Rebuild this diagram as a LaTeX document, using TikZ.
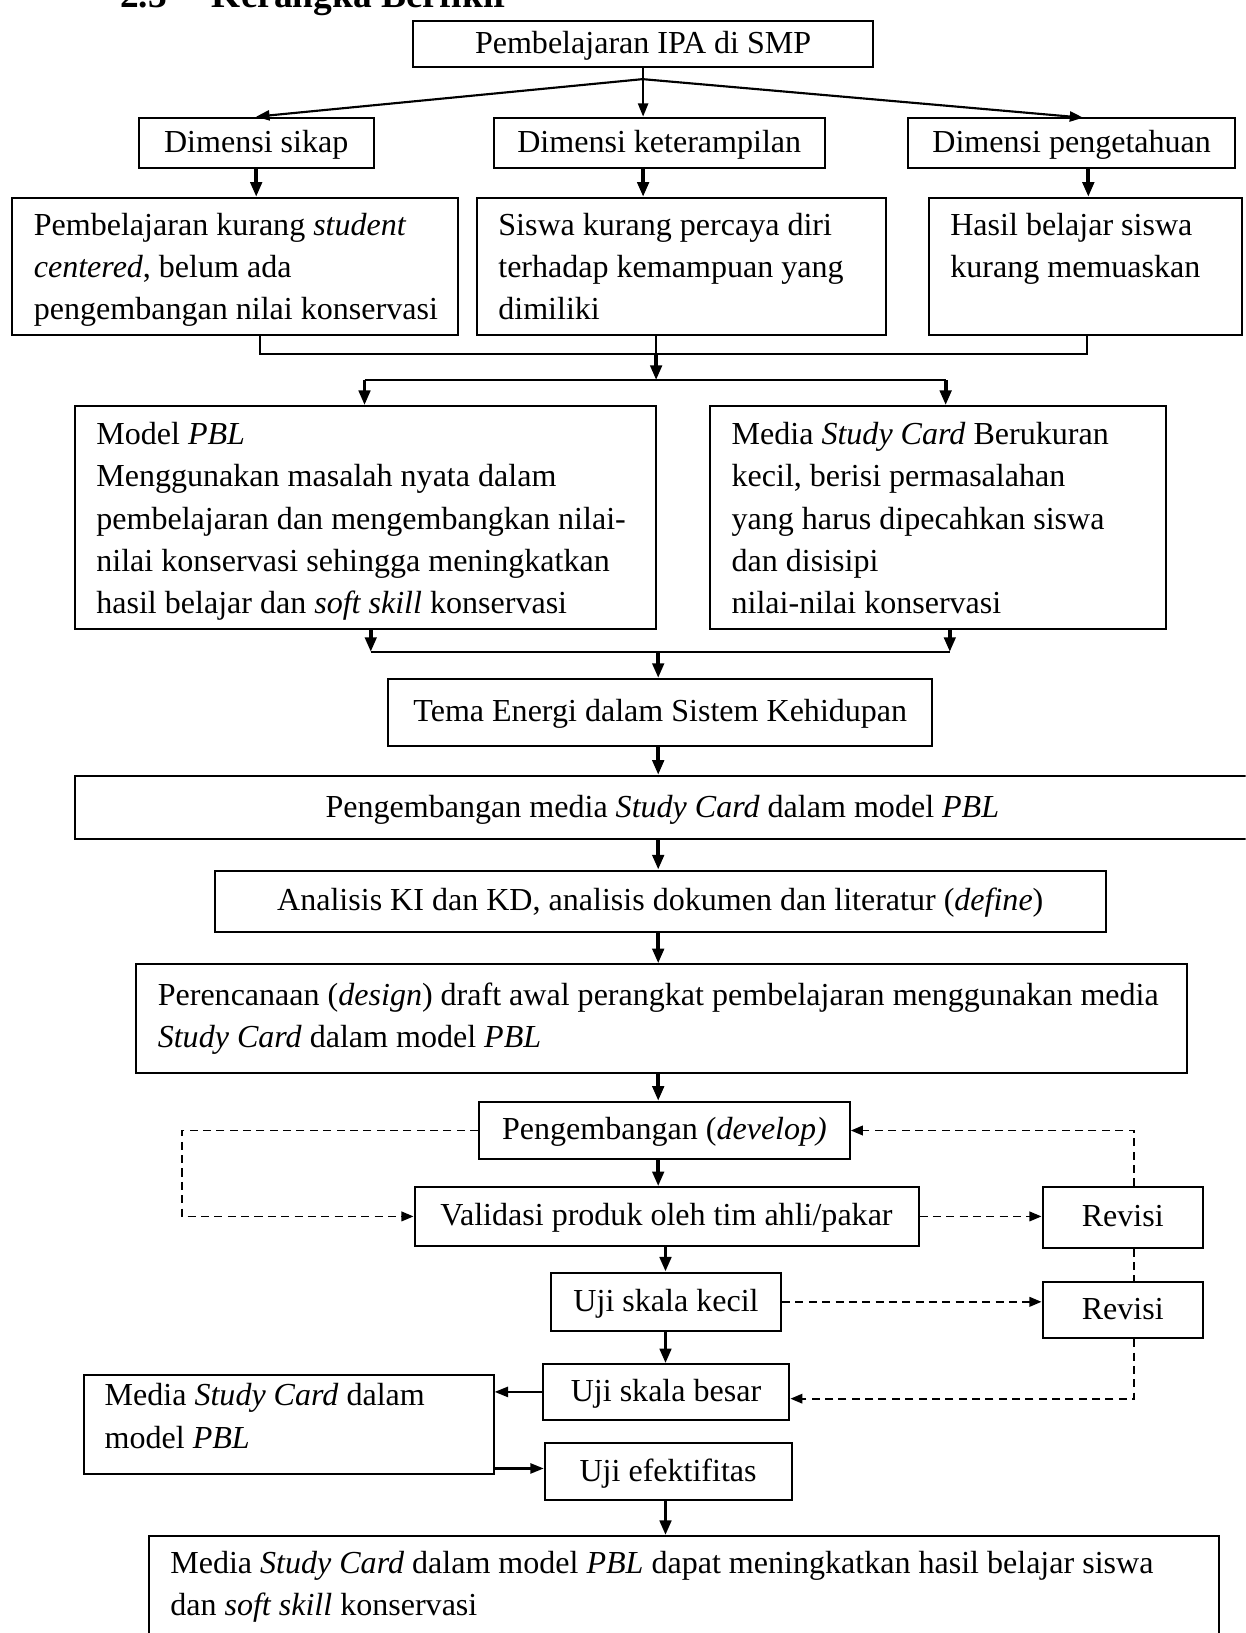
\documentclass[tikz,border=0pt]{standalone}
\usepackage{fontspec}
\setmainfont{Liberation Serif}
\usetikzlibrary{arrows.meta,calc}
\newdimen\pxu
\pxu=0.39pt
\begin{document}
\begin{tikzpicture}[x=0.39pt,y=-0.39pt,
  font=\fontsize{12}{15.8}\selectfont,
  box/.style={draw, line width=0.75pt, inner sep=0pt, rectangle, text height=9.2pt, text depth=2.1pt},
  txt/.style={inner sep=0pt, anchor=base west, text width=30cm, align=flush left,
    execute at begin node={\spaceskip=0pt\xspaceskip=0pt\relax}},
  conn/.style={line width=0.8pt},
  arr/.style={line width=0.8pt, -{Triangle[length=5pt,width=3.8pt]}},
  tarr/.style={line width=1.4pt, -{Triangle[length=5.5pt,width=4.2pt]}},
  dsh/.style={line width=0.65pt, dash pattern=on 3pt off 2pt},
  darr/.style={dsh, -{Triangle[length=4.5pt,width=3.6pt]}}]
\useasboundingbox (0,0) rectangle (1196,1568);
\clip (0,0) rectangle (1196,1568);
\fill[white] (0,0) rectangle (1196,1568);

% heading (cut at the top)
\node[inner sep=0pt, anchor=base west, font=\fontsize{14}{16}\selectfont\bfseries] (head) at (115,7) {2.3};
\node[inner sep=0pt, anchor=base west, font=\fontsize{14}{16}\selectfont\bfseries] (head2) at (203,7) {Kerangka Berfikir};

% row 1
\node[box, minimum width=441\pxu, minimum height=44\pxu] (title) at (617.5,42) {Pembelajaran IPA di SMP};
% row 2
\node[box, minimum width=226\pxu, minimum height=48\pxu] (sikap) at (246,137) {Dimensi sikap};
\node[box, minimum width=318\pxu, minimum height=48\pxu] (keter) at (633,137) {Dimensi keterampilan};
\node[box, minimum width=314\pxu, minimum height=48\pxu] (penget) at (1029,137) {Dimensi pengetahuan};
% row 3
\node[box, minimum width=428\pxu, minimum height=132\pxu] (r3a) at (226,256) {};
\node[txt] (r3at) at (32,226) {Pembelajaran kurang \textit{student}\\\textit{centered}, belum ada\\pengembangan nilai konservasi};
\node[box, minimum width=393\pxu, minimum height=132\pxu] (r3b) at (654.5,256) {};
\node[txt] (r3bt) at (478,226) {Siswa kurang percaya diri\\terhadap kemampuan yang\\dimiliki};
\node[box, minimum width=301\pxu, minimum height=132\pxu] (r3c) at (1042.5,256) {};
\node[txt] (r3ct) at (912,226) {Hasil belajar siswa\\kurang memuaskan};
% row 4
\node[box, minimum width=558\pxu, minimum height=214\pxu] (r4a) at (351,497) {};
\node[txt] (r4at) at (92,427) {Model \textit{PBL}\\Menggunakan masalah nyata dalam\\pembelajaran dan mengembangkan nilai-\\nilai konservasi sehingga meningkatkan\\hasil belajar dan \textit{soft skill} konservasi};
\node[box, minimum width=438\pxu, minimum height=214\pxu] (r4b) at (901,497) {};
\node[txt] (r4bt) at (702,427) {Media \textit{Study Card} Berukuran\\kecil, berisi permasalahan\\yang harus dipecahkan siswa\\dan disisipi\\nilai-nilai konservasi};
% chain
\node[box, minimum width=522\pxu, minimum height=64\pxu] (tema) at (634,684) {Tema Energi dalam Sistem Kehidupan};
\node[box, minimum width=1128\pxu, minimum height=61\pxu] (pmedia) at (636,775.5) {Pengembangan media \textit{Study Card} dalam model \textit{PBL}};
\node[box, minimum width=856\pxu, minimum height=59\pxu] (analisis) at (634,865.5) {Analisis KI dan KD, analisis dokumen dan literatur (\textit{define})};
\node[box, minimum width=1009\pxu, minimum height=104\pxu] (renc) at (635.5,978) {};
\node[txt] (renct) at (151,965) {Perencanaan (\textit{design}) draft awal perangkat pembelajaran menggunakan media\\\textit{Study Card} dalam model \textit{PBL}};
\node[box, minimum width=356\pxu, minimum height=55\pxu] (develop) at (638,1085.5) {Pengembangan (\textit{develop)}};
\node[box, minimum width=484\pxu, minimum height=56\pxu] (valid) at (640,1168) {Validasi produk oleh tim ahli/pakar};
\node[box, minimum width=154\pxu, minimum height=58\pxu] (rev1) at (1078,1169) {Revisi};
\node[box, minimum width=221\pxu, minimum height=56\pxu] (kecil) at (639.5,1250) {Uji skala kecil};
\node[box, minimum width=154\pxu, minimum height=54\pxu] (rev2) at (1078,1258) {Revisi};
\node[box, minimum width=237\pxu, minimum height=53\pxu] (besar) at (639.5,1336.5) {Uji skala besar};
\node[box, minimum width=393\pxu, minimum height=95\pxu] (mediaL) at (277.5,1367.5) {};
\node[txt] (mediaLt) at (100,1350) {Media \textit{Study Card} dalam\\model \textit{PBL}};
\node[box, minimum width=237\pxu, minimum height=54\pxu] (efek) at (641.5,1413) {Uji efektifitas};
\node[box, minimum width=1027\pxu, minimum height=100\pxu] (final) at (656.5,1525) {};
\node[txt] (finalt) at (163,1511) {Media \textit{Study Card} dalam model \textit{PBL} dapat meningkatkan hasil belajar siswa\\dan \textit{soft skill} konservasi};

% connectors: top fan
\coordinate (fan) at (617,76);
\coordinate (pr) at (1040,113);
\draw[arr] (fan) -- (sikap.north);
\draw[arr] (fan) -- (pr);
\draw[arr] (title.south) -- (title.south |- keter.north);
% row 2 -> row 3
\coordinate (p1) at (1045,161);
\draw[tarr] (sikap.south) -- (sikap.south |- r3a.north);
\draw[tarr] (title.south |- keter.south) -- (title.south |- r3b.north);
\draw[tarr] (p1) -- (p1 |- r3c.north);
% row 3 join
\coordinate (ja) at (250,340);
\coordinate (jb) at (630,340);
\coordinate (jc) at (1044,340);
\draw[conn] (ja |- r3a.south) -- (ja) -- (jc) -- (jc |- r3c.south);
\draw[conn] (jb |- r3b.south) -- (jb);
\coordinate (kb) at (630,365);
\coordinate (ka) at (350,365);
\coordinate (kc) at (908,365);
\draw[tarr] (jb) -- (kb);
\draw[conn] (ka) -- (kc);
\draw[tarr] (ka) -- (ka |- r4a.north);
\draw[tarr] (kc) -- (kc |- r4b.north);
% row 4 join
\coordinate (la) at (356,626);
\coordinate (lb) at (632,626);
\coordinate (lc) at (912,626);
\draw[tarr] (la |- r4a.south) -- (la);
\draw[tarr] (lc |- r4b.south) -- (lc);
\draw[conn] (la) -- (lc);
\draw[tarr] (lb) -- (lb |- tema.north);
% main chain
\coordinate (cx) at (632,0);
\draw[tarr] (cx |- tema.south) -- (cx |- pmedia.north);
\draw[tarr] (cx |- pmedia.south) -- (cx |- analisis.north);
\draw[tarr] (cx |- analisis.south) -- (cx |- renc.north);
\draw[tarr] (cx |- renc.south) -- (cx |- develop.north);
\draw[tarr] (cx |- develop.south) -- (cx |- valid.north);
\coordinate (cy) at (639,0);
\draw[tarr] (cy |- valid.south) -- (cy |- kecil.north);
\draw[tarr] (cy |- kecil.south) -- (cy |- besar.north);
\draw[tarr] (cy |- efek.south) -- (cy |- final.north);
% dashed loops
\coordinate (dl) at (175,1085);
\draw[darr] (develop.west) -- (develop.west -| dl) -- (dl |- valid.west) -- (valid.west);
\coordinate (dr) at (1089,1083);
\draw[darr] (dr |- rev1.north) -- (develop.east -| dr) -- (develop.east);
\draw[darr] (valid.east) -- (valid.east -| rev1.west);
\draw[dsh] (dr |- rev1.south) -- (dr |- rev2.north);
\draw[darr] (kecil.east) -- (kecil.east -| rev2.west);
\coordinate (db) at (1089,1343);
\draw[darr] (dr |- rev2.south) -- (db) -- (db -| besar.east);
% side box
\draw[arr] (besar.west) -- (besar.west -| mediaL.east);
\coordinate (me) at (474,1410);
\draw[arr] (mediaL.east |- me) -- (me -| efek.west);
\end{tikzpicture}
\end{document}
